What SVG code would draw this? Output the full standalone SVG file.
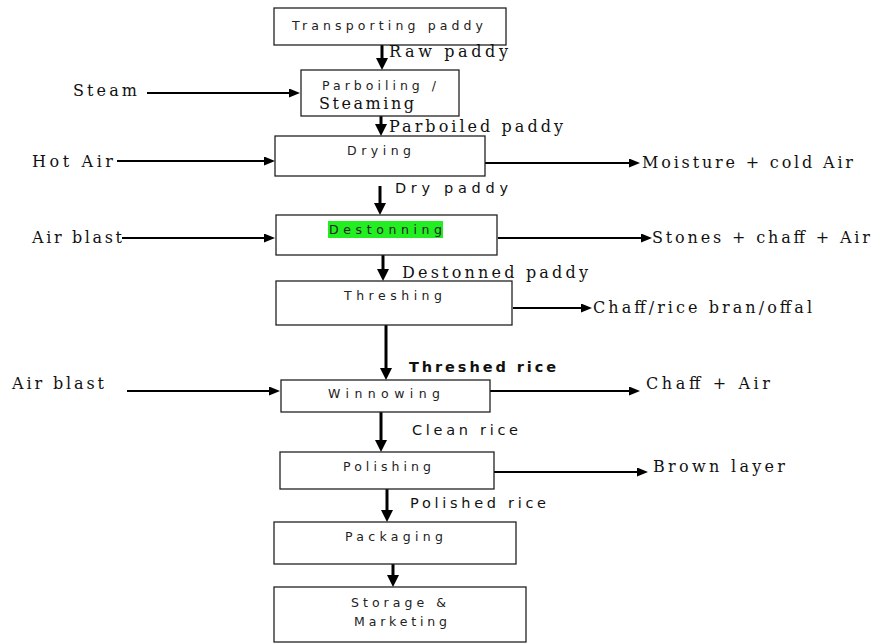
<svg xmlns="http://www.w3.org/2000/svg" width="874" height="643" viewBox="0 0 874 643">
<style>
.box{fill:#fff;stroke:#222;stroke-width:1.3}
.bt{font-family:"DejaVu Sans","Liberation Sans",sans-serif;font-size:12.5px;fill:#222}
.lb{font-family:"DejaVu Serif","Liberation Serif",serif;font-size:16px;fill:#111}
.ls{font-family:"DejaVu Sans","Liberation Sans",sans-serif;font-size:14.5px;fill:#111}
.v{stroke:#000;stroke-width:3;fill:none}
.h{stroke:#000;stroke-width:2;fill:none}
</style>
<defs>
<marker id="ah" markerUnits="userSpaceOnUse" markerWidth="12" markerHeight="10" refX="5" refY="4.5" orient="auto"><path d="M0,0 L11,4.5 L0,9 z" fill="#000"/></marker>
<marker id="ahv" markerUnits="userSpaceOnUse" markerWidth="14" markerHeight="12" refX="5" refY="6" orient="auto"><path d="M0,0 L12,6 L0,12 z" fill="#000"/></marker>
</defs>
<rect width="874" height="643" fill="#fff"/>

<g id="connectors">
<line class="v" x1="382" y1="45" x2="382" y2="63" marker-end="url(#ahv)"/>
<line class="v" x1="381" y1="116" x2="381" y2="129" marker-end="url(#ahv)"/>
<line class="v" x1="380" y1="186" x2="380" y2="208" marker-end="url(#ahv)"/>
<line class="v" x1="383" y1="255" x2="383" y2="274" marker-end="url(#ahv)"/>
<line class="v" x1="386" y1="325" x2="386" y2="373" stroke-width="4" marker-end="url(#ahv)"/>
<line class="v" x1="381" y1="412" x2="381" y2="445" marker-end="url(#ahv)"/>
<line class="v" x1="387" y1="489" x2="387" y2="515" stroke-width="3.5" marker-end="url(#ahv)"/>
<line class="v" x1="393" y1="564" x2="393" y2="580" marker-end="url(#ahv)"/>

<line class="h" x1="147" y1="93" x2="294" y2="93" marker-end="url(#ah)"/>
<line class="h" x1="117" y1="161" x2="269" y2="161" marker-end="url(#ah)"/>
<line class="h" x1="122" y1="238" x2="269" y2="238" marker-end="url(#ah)"/>
<line class="h" x1="127" y1="391" x2="274" y2="391" marker-end="url(#ah)"/>
<line class="h" x1="482" y1="163" x2="634" y2="163" marker-end="url(#ah)"/>
<line class="h" x1="498" y1="238" x2="646" y2="238" marker-end="url(#ah)"/>
<line class="h" x1="513" y1="308" x2="586" y2="308" stroke-width="3" marker-end="url(#ah)"/>
<line class="h" x1="490" y1="391" x2="634" y2="391" marker-end="url(#ah)"/>
<line class="h" x1="493" y1="472" x2="642" y2="472" marker-end="url(#ah)"/>
</g>

<g id="transporting">
<rect class="box" x="274" y="8" width="232" height="37"/>
<text class="bt" x="292" y="30" textLength="191" lengthAdjust="spacing">Transporting paddy</text>
</g>
<g id="parboiling">
<rect class="box" x="301" y="70" width="158" height="46"/>
<text class="bt" x="322" y="90" textLength="114" lengthAdjust="spacing">Parboiling /</text>
<text class="lb" x="319" y="109" textLength="95" lengthAdjust="spacing" font-size="15">Steaming</text>
</g>
<g id="drying">
<rect class="box" x="275" y="136" width="210" height="40"/>
<text class="bt" x="347" y="155" textLength="64" lengthAdjust="spacing">Drying</text>
</g>
<g id="destonning">
<rect class="box" x="276" y="215" width="221" height="40"/>
<rect x="328" y="221" width="115" height="17" fill="#22ee22"/>
<text class="bt" x="329" y="234" textLength="113" lengthAdjust="spacing">Destonning</text>
</g>
<g id="threshing">
<rect class="box" x="276" y="281" width="236" height="44"/>
<text class="bt" x="344" y="300" textLength="98" lengthAdjust="spacing">Threshing</text>
</g>
<g id="winnowing">
<rect class="box" x="281" y="380" width="209" height="32"/>
<text class="bt" x="328" y="398" textLength="112" lengthAdjust="spacing" fill="#555">Winnowing</text>
</g>
<g id="polishing">
<rect class="box" x="280" y="452" width="214" height="37"/>
<text class="bt" x="343" y="471" textLength="88" lengthAdjust="spacing">Polishing</text>
</g>
<g id="packaging">
<rect class="box" x="274" y="522" width="242" height="42"/>
<text class="bt" x="345" y="541" textLength="98" lengthAdjust="spacing">Packaging</text>
</g>
<g id="storage">
<rect class="box" x="274" y="587" width="252" height="55"/>
<text class="bt" x="351" y="607" textLength="95" lengthAdjust="spacing">Storage &amp;</text>
<text class="bt" x="354" y="626" textLength="93" lengthAdjust="spacing">Marketing</text>
</g>

<g id="labels">
<text class="lb" x="389" y="57" textLength="119" lengthAdjust="spacing">Raw paddy</text>
<text class="lb" x="389" y="132" textLength="174" lengthAdjust="spacing">Parboiled paddy</text>
<text class="ls" x="395" y="193" textLength="113" lengthAdjust="spacing">Dry  paddy</text>
<text class="lb" x="402" y="278" textLength="186" lengthAdjust="spacing">Destonned paddy</text>
<text class="ls" x="409" y="372" textLength="147" lengthAdjust="spacing" font-weight="bold">Threshed rice</text>
<text class="ls" x="412" y="435" textLength="106" lengthAdjust="spacing">Clean rice</text>
<text class="ls" x="410" y="508" textLength="136" lengthAdjust="spacing">Polished rice</text>

<text class="lb" x="73" y="96" textLength="64" lengthAdjust="spacing">Steam</text>
<text class="lb" x="32" y="167" textLength="81" lengthAdjust="spacing">Hot Air</text>
<text class="lb" x="32" y="243" textLength="90" lengthAdjust="spacing">Air blast</text>
<text class="lb" x="12" y="389" textLength="92" lengthAdjust="spacing">Air blast</text>

<text class="lb" x="642" y="168" textLength="211" lengthAdjust="spacing">Moisture + cold Air</text>
<text class="lb" x="652" y="243" textLength="218" lengthAdjust="spacing">Stones + chaff + Air</text>
<text class="lb" x="593" y="313" textLength="219" lengthAdjust="spacing">Chaff/rice bran/offal</text>
<text class="lb" x="646" y="389" textLength="124" lengthAdjust="spacing">Chaff + Air</text>
<text class="lb" x="653" y="472" textLength="132" lengthAdjust="spacing">Brown layer</text>
</g>
</svg>
